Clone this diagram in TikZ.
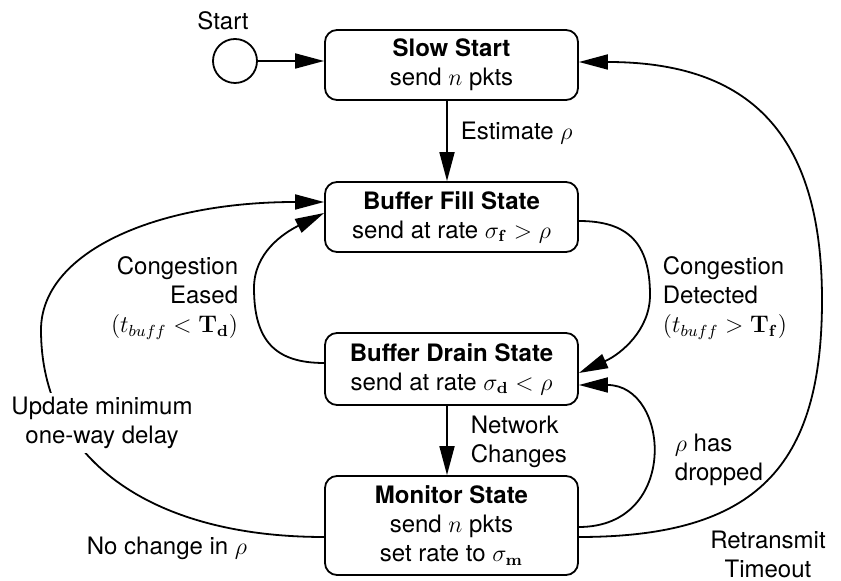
\documentclass[tikz,border=0pt]{standalone}
\usepackage[no-math]{fontspec}
\setmainfont{TeX Gyre Heros}
\usetikzlibrary{arrows.meta,calc}
\begin{document}
\begin{tikzpicture}[x=0.5pt,y=-0.5pt,
  font=\fontsize{12}{14.5}\selectfont,
  line width=0.9pt,
  state/.style={draw, rounded corners=6pt, minimum width=126.5pt, align=center, inner sep=2pt},
  arr/.style={-{Triangle[length=14.5pt,width=7.5pt]}},
  lbl/.style={inner sep=1pt}]
\useasboundingbox (0,0) rectangle (841,581);

% states
\node[state, minimum height=35pt] (slow) at (451.5,65) {\textbf{Slow Start}\\send $n$ pkts};
\node[state, minimum height=35pt] (fill) at (451.5,217) {\textbf{Buffer Fill State}\\send at rate $\sigma_{\mathbf{f}} > \rho$};
\node[state, minimum height=36pt] (drain) at (451.5,369) {\textbf{Buffer Drain State}\\send at rate $\sigma_{\mathbf{d}} < \rho$};
\node[state, minimum height=49.5pt] (monitor) at (451.5,525.5) {\textbf{Monitor State}\\send $n$ pkts\\set rate to $\sigma_{\mathbf{m}}$};
\node[draw, circle, minimum size=22pt, inner sep=0pt] (start) at (235,61) {};
\node[lbl] (startlbl) at (223,21) {Start};

% transition labels
\node[lbl, anchor=west] (est) at (458,133) {Estimate $\rho$};
\node[lbl, anchor=east, align=right] (eased) at (241,298) {Congestion\\Eased\\$(t_{buff} < \mathbf{T_d})$};
\node[lbl, anchor=west, align=left] (detect) at (660,298) {Congestion\\Detected\\$(t_{buff} > \mathbf{T_f})$};
\node[lbl, anchor=west, align=left] (netch) at (468,442) {Network\\Changes};
\node[lbl, anchor=west, align=left] (dropped) at (672,460) {$\rho$ has\\dropped};
\node[lbl] (nochange) at (167,548) {No change in $\rho$};
\node[lbl, align=center] (rto) at (768,554) {Retransmit\\Timeout};

% straight transitions
\draw[arr] (start.east) -- (start.east -| slow.west);
\draw[arr] ([xshift=-2.25pt]slow.south) -- ([xshift=-2.25pt]fill.north);
\draw[arr] ([xshift=-2.25pt]drain.south) -- ([xshift=-2.25pt]monitor.north);

% congestion eased: drain -> fill
\draw[arr] ($(drain.west)+(0,-6)$) .. controls (275,363) and (254,340.5) .. (254,288)
  .. controls (254,253) and (283,233.4) .. ($(fill.west)+(0,-4)$);

% congestion detected: fill -> drain
\draw[arr] ($(fill.east)+(0,4)$) .. controls (628,221) and (650,243) .. (650,295)
  .. controls (650,330) and (621,354) .. ($(drain.east)+(0,4)$);

% rho has dropped: monitor -> drain
\draw[arr] ($(monitor.east)+(0,1.5)$) .. controls (680,527) and (670,385) .. ($(drain.east)+(0,16)$);

% retransmit timeout: monitor -> slow start
\draw[arr] ($(monitor.east)+(0,11.5)$) .. controls (757,537) and (822,466) .. (822,300)
  .. controls (822,133) and (749,62) .. ($(slow.east)+(0,-3)$);

% no change: monitor -> fill
\draw[arr] ($(monitor.west)+(0,11.5)$) .. controls (149,537) and (41,458) .. (41,330)
  .. controls (41,253) and (154,202) .. ($(fill.west)+(0,-15)$);

% label over the long left loop
\node[lbl, fill=white, inner sep=2pt, align=center] (update) at (102,423) {Update minimum\\one-way delay};
\end{tikzpicture}
\end{document}
